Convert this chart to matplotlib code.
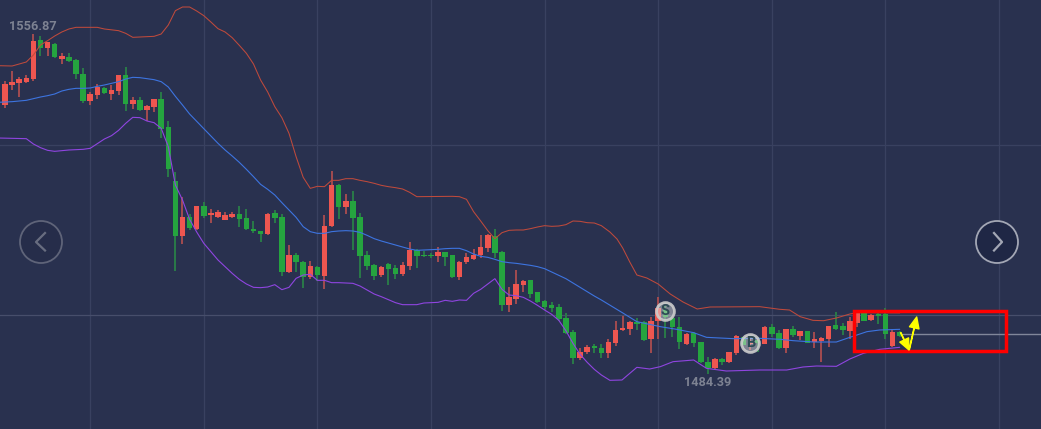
import matplotlib
matplotlib.use("Agg")
import matplotlib.pyplot as plt
from matplotlib.patches import Circle, Rectangle

# candles, one entry per bar, prices
opens = [1541.95, 1546.08, 1546.57, 1546.78, 1547.34, 1555.53, 1553.85, 1554.83, 1551.68, 1551.96,
         1551.4, 1548.53, 1542.79, 1544.05, 1545.59, 1544.33, 1544.89, 1548.18, 1542.09, 1542.93,
         1540.9, 1541.53, 1543.14, 1537.26, 1526.06, 1514.44, 1518.36, 1515.84, 1520.67, 1518.85,
         1518.5, 1517.8, 1518.5, 1518.99, 1518.15, 1515.84, 1515.42, 1514.86, 1519.2, 1518.36,
         1506.88, 1510.38, 1509.05, 1505.76, 1507.93, 1506.04, 1516.54, 1525.15, 1520.53, 1521.72,
         1518.36, 1510.38, 1508.35, 1506.18, 1508.56, 1507.65, 1506.46, 1508.14, 1511.5, 1510.52,
         1510.52, 1510.24, 1511.01, 1510.38, 1505.76, 1508.98, 1509.54, 1510.38, 1511.92, 1514.51,
         1511.15, 1499.95, 1501.21, 1504.15, 1505.13, 1502.61, 1500.79, 1499.95, 1499.46, 1497.15,
         1494.21, 1488.75, 1490.01, 1491.27, 1490.99, 1489.87, 1491.97, 1494.7, 1494.91, 1496.38,
         1496.38, 1492.74, 1496.52, 1498.9, 1497.15, 1495.4, 1491.83, 1494.14, 1492.11, 1487.91,
         1486.65, 1488.54, 1487.91, 1489.8, 1493.16, 1491.69, 1492.6, 1491.83, 1495.33, 1494.0,
         1490.92, 1494.84, 1493.44, 1494.42, 1492.25, 1492.39, 1492.74, 1495.75, 1495.54, 1494.56,
         1496.24, 1498.2, 1496.73, 1498.06, 1498.06, 1491.34, 1494.28]
closes = [1546.29, 1546.78, 1547.41, 1547.62, 1555.32, 1553.99, 1555.11, 1552.03, 1552.17, 1551.19,
          1548.46, 1542.79, 1544.19, 1545.66, 1544.4, 1545.03, 1548.18, 1542.16, 1542.93, 1540.83,
          1541.67, 1543.14, 1536.91, 1528.51, 1514.44, 1518.36, 1516.05, 1520.67, 1518.57, 1519.27,
          1519.41, 1518.78, 1518.99, 1518.01, 1515.84, 1515.42, 1514.86, 1518.99, 1518.22, 1506.88,
          1510.38, 1508.98, 1505.9, 1508.07, 1506.25, 1516.61, 1525.08, 1520.53, 1521.72, 1518.22,
          1510.24, 1508.14, 1506.04, 1508.0, 1507.51, 1506.46, 1508.28, 1511.43, 1510.24, 1510.24,
          1510.24, 1511.01, 1510.03, 1505.76, 1509.05, 1509.96, 1510.38, 1512.06, 1514.58, 1510.8,
          1499.95, 1501.56, 1504.29, 1504.99, 1502.26, 1500.58, 1499.46, 1499.25, 1496.94, 1494.14,
          1488.75, 1490.15, 1491.13, 1490.92, 1489.87, 1492.11, 1494.77, 1495.05, 1496.38, 1495.96,
          1492.67, 1496.52, 1499.25, 1497.36, 1495.33, 1492.11, 1493.79, 1491.9, 1487.98, 1486.65,
          1488.54, 1487.98, 1490.01, 1493.44, 1491.55, 1492.04, 1491.9, 1495.33, 1493.79, 1490.85,
          1494.84, 1493.65, 1494.42, 1492.04, 1492.74, 1493.02, 1495.47, 1494.91, 1494.63, 1496.52,
          1498.2, 1496.59, 1497.78, 1497.71, 1493.86, 1494.28, 1493.37]
highs = [1546.99, 1549.09, 1547.76, 1548.18, 1556.86, 1556.44, 1555.25, 1554.97, 1552.8, 1552.8,
         1551.54, 1549.65, 1544.61, 1546.29, 1545.8, 1546.15, 1548.32, 1549.93, 1543.56, 1543.56,
         1541.95, 1543.28, 1544.68, 1538.59, 1527.81, 1522.63, 1518.99, 1520.81, 1521.65, 1520.04,
         1519.9, 1519.48, 1519.48, 1520.74, 1520.11, 1517.59, 1515.56, 1519.2, 1519.9, 1518.99,
         1512.55, 1510.94, 1509.19, 1509.19, 1508.14, 1518.85, 1528.09, 1525.36, 1523.26, 1523.82,
         1519.2, 1511.22, 1508.56, 1508.14, 1508.77, 1508.28, 1508.91, 1513.18, 1511.78, 1511.22,
         1510.8, 1512.06, 1511.15, 1510.45, 1509.19, 1510.87, 1511.71, 1514.65, 1514.86, 1515.91,
         1511.29, 1503.73, 1507.3, 1505.2, 1505.2, 1502.68, 1500.93, 1500.58, 1500.09, 1498.2,
         1494.7, 1490.85, 1491.55, 1491.76, 1491.69, 1492.88, 1496.52, 1497.71, 1496.66, 1497.29,
         1496.52, 1497.5, 1501.56, 1499.74, 1497.5, 1497.36, 1494.0, 1494.35, 1492.25, 1488.96,
         1488.75, 1488.89, 1490.15, 1493.72, 1493.3, 1492.95, 1493.16, 1495.47, 1496.03, 1494.7,
         1494.98, 1495.54, 1494.56, 1494.56, 1494.28, 1493.3, 1495.61, 1498.48, 1496.1, 1497.36,
         1498.55, 1498.48, 1498.06, 1498.55, 1499.25, 1494.98, 1494.42]
lows = [1541.25, 1545.1, 1543.63, 1546.5, 1546.99, 1552.31, 1552.24, 1551.89, 1550.56, 1551.05,
        1547.41, 1542.44, 1541.95, 1543.21, 1544.26, 1543.0, 1544.05, 1540.69, 1541.11, 1540.69,
        1538.66, 1540.48, 1535.02, 1526.9, 1507.09, 1512.76, 1515.7, 1515.7, 1518.29, 1517.24,
        1518.22, 1517.73, 1518.15, 1516.33, 1515.7, 1515.0, 1513.18, 1514.72, 1517.17, 1506.11,
        1506.74, 1506.88, 1503.59, 1505.48, 1505.0, 1503.38, 1516.4, 1518.08, 1519.13, 1511.5,
        1505.69, 1507.3, 1505.2, 1505.9, 1504.15, 1505.41, 1506.04, 1507.3, 1507.72, 1509.96,
        1509.82, 1508.98, 1508.14, 1505.62, 1505.2, 1508.56, 1509.4, 1509.82, 1511.08, 1509.75,
        1498.69, 1498.48, 1500.16, 1502.68, 1501.42, 1500.44, 1498.9, 1498.48, 1496.52, 1493.86,
        1487.56, 1488.4, 1489.66, 1489.87, 1488.82, 1488.82, 1491.41, 1494.49, 1493.65, 1494.7,
        1492.46, 1489.94, 1492.74, 1492.95, 1493.16, 1490.71, 1491.55, 1491.2, 1487.84, 1485.46,
        1486.51, 1487.35, 1487.84, 1489.45, 1491.48, 1490.5, 1490.15, 1491.69, 1493.3, 1490.64,
        1489.87, 1493.3, 1492.6, 1491.9, 1490.99, 1487.98, 1491.2, 1494.7, 1493.65, 1492.74,
        1495.4, 1496.52, 1496.59, 1495.96, 1492.81, 1491.2, 1493.23]

# bollinger style bands, read at bar positions
upper_x = [-1, 1, 3, 4, 5, 6, 7, 8, 9, 10, 13, 14, 16, 17, 18, 20, 21, 22, 23, 24, 25, 26, 27, 28, 29,
           30, 31, 32, 33, 34, 35, 36, 37, 38, 39, 40, 41, 42, 43, 44, 45, 46, 47, 48, 49, 50, 51, 52,
           53, 54, 55, 56, 57, 58, 63, 64, 65, 66, 67, 68, 69, 70, 71, 72, 73, 74, 75, 76, 77, 78, 79,
           80, 81, 82, 83, 84, 85.2, 86.2, 87, 88, 89, 90.4, 92, 93.7, 95.5, 97.5, 99.3, 106.3, 109.1,
           110.5, 112, 113.8, 115.3, 117.1, 119, 120, 123.2, 126]
upper = [1550.21, 1550.14, 1550.98, 1552.45, 1554.55, 1555.46, 1556.44, 1557.28, 1557.91, 1558.26,
         1558.26, 1557.91, 1557.56, 1557.0, 1556.16, 1556.3, 1556.37, 1556.86, 1558.75, 1561.76,
         1562.53, 1562.53, 1561.69, 1560.71, 1559.38, 1557.98, 1557.28, 1556.09, 1554.48, 1552.8,
         1550.56, 1547.2, 1544.68, 1541.6, 1539.29, 1536.0, 1531.1, 1526.76, 1524.45, 1524.87,
         1524.8, 1526.13, 1526.13, 1526.48, 1526.48, 1526.13, 1525.85, 1525.5, 1525.08, 1524.8,
         1524.59, 1524.31, 1523.61, 1522.7, 1522.77, 1522.7, 1522.14, 1519.55, 1517.59, 1515.56,
         1513.88, 1515.14, 1515.63, 1515.7, 1515.7, 1515.98, 1516.33, 1516.61, 1516.47, 1516.54,
         1516.82, 1517.59, 1517.52, 1517.24, 1517.17, 1516.61, 1515.28, 1513.81, 1511.92, 1508.98,
         1506.25, 1505.62, 1504.36, 1502.26, 1500.58, 1499.11, 1499.53, 1499.6, 1499.05, 1498.9,
         1497.5, 1496.73, 1496.65, 1497.22, 1498.06, 1498.33, 1498.33, 1498.3]
middle_x = [-1, 1, 3, 4, 5, 6, 7, 8, 9, 10, 11, 12, 13, 14, 15, 16, 17, 18, 19, 20, 21, 22, 23, 24, 25,
            26, 27, 28, 29, 30, 31, 32, 33, 34, 35, 36, 37, 38, 39, 40, 41, 42, 43, 44, 45, 46, 47, 48,
            49, 50, 51, 52, 53, 54, 55, 56, 57, 58, 59, 60, 61, 62, 63, 64, 65, 66, 67, 68, 69, 70, 71,
            72, 73, 74, 75, 76, 77, 78, 79, 80, 81, 82, 83, 84, 87.1, 89, 92.3, 94.6, 97, 98.8, 102.6,
            106.3, 109.2, 111, 113.9, 117.1, 119, 121.4, 123.2, 126]
middle = [1542.51, 1542.65, 1542.93, 1543.28, 1543.63, 1543.91, 1544.26, 1544.89, 1545.24, 1545.45,
          1545.45, 1545.52, 1545.87, 1546.15, 1546.5, 1546.85, 1547.41, 1547.76, 1547.69, 1547.48,
          1547.27, 1546.85, 1545.73, 1543.77, 1541.95, 1540.06, 1538.52, 1536.98, 1535.44, 1533.9,
          1532.5, 1531.24, 1529.91, 1528.44, 1526.9, 1525.29, 1524.24, 1523.05, 1521.44, 1519.9,
          1518.36, 1516.4, 1515.35, 1515.0, 1515.0, 1515.35, 1515.49, 1515.56, 1515.49, 1515.21,
          1514.58, 1513.88, 1513.39, 1512.97, 1512.55, 1512.13, 1511.71, 1511.43, 1511.5, 1511.57,
          1511.64, 1511.78, 1511.85, 1511.85, 1511.36, 1510.66, 1510.17, 1509.96, 1509.54, 1509.05,
          1508.84, 1508.7, 1508.49, 1508.28, 1508.0, 1507.58, 1506.88, 1506.18, 1505.48, 1504.57,
          1503.66, 1502.75, 1501.84, 1501.0, 1498.2, 1496.45, 1495.4, 1494.84, 1494.14, 1493.16,
          1492.88, 1492.95, 1492.74, 1492.46, 1492.18, 1492.18, 1493.16, 1494.35, 1494.7, 1494.84]
lower_x = [-1, 3, 4, 5, 6, 7, 8, 9, 10, 11, 12, 13, 14, 15, 16, 17, 18, 19, 20, 21, 22, 23, 24, 25, 26,
           27, 28, 29, 30, 31, 32, 33, 34, 35, 36, 37, 38, 39, 40, 41, 42, 43, 44, 45, 46, 47, 48, 49,
           50, 51, 52, 53, 54, 55, 56, 58, 59, 61, 62, 63, 64, 65, 66, 67, 68, 69, 70, 71, 72, 73, 74,
           75, 76, 77, 78, 79, 80, 81, 82, 83, 84, 85.2, 86.9, 88, 89, 90.8, 92.3, 94.1, 97, 98.8,
           101.6, 106.3, 110.1, 112.4, 114.3, 117.1, 119, 120.9, 123.2, 126]
lower = [1535.02, 1534.88, 1533.76, 1532.99, 1532.43, 1532.22, 1532.36, 1532.5, 1532.57, 1532.64,
         1532.85, 1533.83, 1534.81, 1535.51, 1536.63, 1538.1, 1539.36, 1539.29, 1538.59, 1538.24,
         1537.05, 1533.2, 1525.15, 1522.0, 1517.94, 1515.28, 1512.9, 1511.15, 1509.4, 1508.0,
         1506.6, 1505.34, 1504.36, 1503.66, 1503.59, 1503.73, 1504.22, 1503.17, 1503.66, 1505.55,
         1506.25, 1506.39, 1505.13, 1505.13, 1504.64, 1504.64, 1504.57, 1504.5, 1503.94, 1503.1,
         1502.26, 1501.7, 1501.07, 1500.44, 1500.02, 1500.02, 1500.37, 1500.51, 1500.93, 1500.72,
         1501.0, 1500.93, 1502.4, 1503.24, 1504.36, 1505.48, 1503.24, 1502.05, 1501.91, 1501.56,
         1500.79, 1499.88, 1498.9, 1497.99, 1496.73, 1494.56, 1491.9, 1489.59, 1487.91, 1486.44,
         1485.25, 1484.13, 1484.2, 1485.6, 1486.86, 1486.51, 1487.0, 1488.05, 1488.4, 1486.65,
         1486.09, 1486.3, 1486.3, 1486.93, 1487.14, 1487.07, 1488.61, 1489.8, 1490.64, 1491.06]

grid_bars = [12, 28, 44, 60, 76, 92, 108, 124, 140]
faint_price = 1533.65
main_price = 1497.75
last_price = 1493.8
max_label = "1556.87"
min_label = "1484.39"
signal_bars = [93, 105]
signal_prices = [1498.69, 1491.97]
signal_labels = ["S", "B"]

BG = "#29314f"
RED = "#ee5650"
GREEN = "#25a43f"
RED_WICK = "#a34b4f"
GREEN_WICK = "#2a7a48"

plt.rcParams["font.family"] = ["Roboto", "DejaVu Sans"]

fig = plt.figure(figsize=(10.41, 4.29), dpi=100, facecolor=BG)
ax = fig.add_axes([0, 0, 1, 1], facecolor=BG)
ax.set_xlim(-0.704, 145.92)
ax.set_ylim(1473.91, 1564)
for s in ax.spines.values():
    s.set_visible(False)
ax.set_xticks(grid_bars)
ax.set_yticks([faint_price])
ax.tick_params(length=0, labelbottom=False, labelleft=False)
ax.grid(True, color="#394160", linewidth=0.9, zorder=0)
ax.set_axisbelow(True)
ax.axhline(main_price, color="#474e6b", linewidth=0.9, zorder=1)

for i in range(len(opens)):
    up = closes[i] > opens[i]
    ax.vlines(i, lows[i], highs[i], color=RED_WICK if up else GREEN_WICK, linewidth=1.4, zorder=2)
    ax.bar(i, abs(closes[i] - opens[i]), bottom=min(opens[i], closes[i]), width=0.78,
           color=RED if up else GREEN, linewidth=0, zorder=3)

ax.plot(upper_x, upper, color="#bf4a3c", linewidth=0.75, zorder=4)
ax.plot(middle_x, middle, color="#3d74e0", linewidth=0.8, zorder=4)
ax.plot(lower_x, lower, color="#8f45e0", linewidth=0.8, zorder=4)

ax.hlines(last_price, 126, 145.92, color="#80869a", linewidth=1.0, zorder=2)

ax.scatter(signal_bars, signal_prices, s=165, facecolor=(0.9, 0.9, 0.9, 0.45),
           edgecolor=(0.8, 0.8, 0.8, 0.9), linewidth=2.0, zorder=5)
for b, p, t in zip(signal_bars, signal_prices, signal_labels):
    ax.text(b, p, t, color="#2d4a55", fontsize=10.5, fontweight="bold", ha="center", va="center", zorder=6)

# text and widgets sit on a pixel overlay
ov = fig.add_axes([0, 0, 1, 1], facecolor="none")
ov.set_xlim(0, 1041)
ov.set_ylim(429, 0)
ov.axis("off")

ov.text(33, 27, max_label, color="#7d8292", fontsize=9.2, fontweight="bold", ha="center", va="center")
ov.text(708, 383, min_label, color="#7d8292", fontsize=9.2, fontweight="bold", ha="center", va="center")

ov.add_patch(Circle((41, 242), 21, facecolor="#262d4a", edgecolor="#5f6479", linewidth=1.3))
ov.plot([45, 36, 45], [233, 242, 250.5], color="#686d80", linewidth=1.6)
ov.add_patch(Circle((997, 242), 21, facecolor="#1f2745", edgecolor="#a3a7b5", linewidth=1.3))
ov.plot([994, 1002, 994], [233, 242, 250.5], color="#a3a7b5", linewidth=1.6)

ov.add_patch(Rectangle((854, 311), 151.5, 39.5, fill=False, edgecolor="#ff0000", linewidth=2.5, zorder=7))

ov.annotate("", xy=(916.7, 317), xytext=(909.3, 349.3), zorder=8,
            arrowprops=dict(facecolor="#ffff00", edgecolor="#ffff00", width=0.3, headwidth=7, headlength=8, shrink=0))
ov.annotate("", xy=(909, 350), xytext=(900.7, 332.7), zorder=8,
            arrowprops=dict(facecolor="#ffff00", edgecolor="#ffff00", width=0.3, headwidth=7, headlength=8, shrink=0))

fig.savefig("out.png", dpi=100, facecolor=BG)
